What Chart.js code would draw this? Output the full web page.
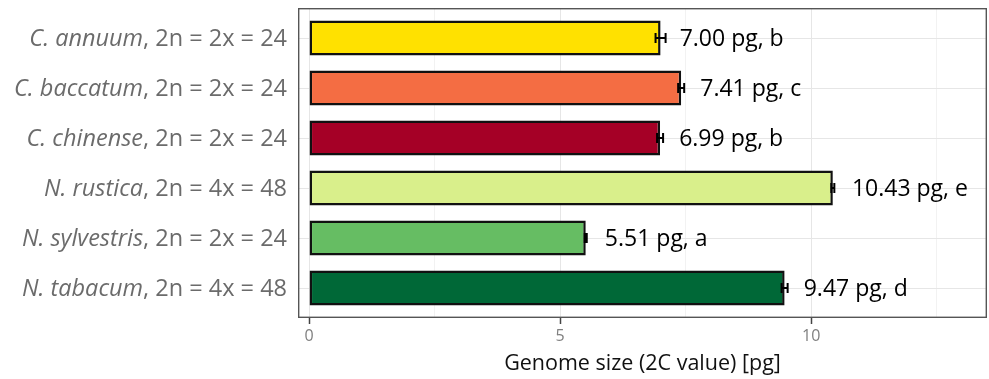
<!DOCTYPE html>
<html>
<head>
<meta charset="utf-8">
<script src="https://cdn.jsdelivr.net/npm/chart.js@4.4.1/dist/chart.umd.min.js"></script>
<style>
  html, body { margin: 0; padding: 0; background: #fff; }
  #wrap { width: 989px; height: 379px; }
</style>
</head>
<body>
<div id="wrap"><canvas id="genomeChart"></canvas></div>
<script>
// datos
const species = ['C. annuum', 'C. baccatum', 'C. chinense', 'N. rustica', 'N. sylvestris', 'N. tabacum'];
const karyotype = ['2n = 2x = 24', '2n = 2x = 24', '2n = 2x = 24', '2n = 4x = 48', '2n = 2x = 24', '2n = 4x = 48'];
const genomeSize = [7.00, 7.41, 6.99, 10.43, 5.51, 9.47];
const errorSize = [0.10, 0.06, 0.06, 0.03, 0.02, 0.06];
const letters = ['b', 'c', 'b', 'e', 'a', 'd'];
const barColors = ['#FFE100', '#F46D43', '#A50026', '#D9EF8B', '#66BD63', '#006837'];
const xTicks = [0, 5, 10];

const FONT = '"Open Sans", "DejaVu Sans", sans-serif';

// etiquetas del eje y (especie en cursiva + cariotipo)
const speciesLabels = {
  id: 'speciesLabels',
  afterDraw(chart) {
    const ctx = chart.ctx;
    const y = chart.scales.y;
    const right = chart.chartArea.left - 11;
    ctx.save();
    ctx.textBaseline = 'middle';
    ctx.fillStyle = '#6b6b6b';
    species.forEach((name, i) => {
      const py = y.getPixelForValue(i) + 1;
      const rest = ', ' + karyotype[i];
      ctx.font = '23.5px ' + FONT;
      const wRest = ctx.measureText(rest).width;
      ctx.textAlign = 'right';
      ctx.fillText(rest, right, py);
      ctx.font = 'italic 23.5px ' + FONT;
      ctx.fillText(name, right - wRest, py);
    });
    ctx.restore();
  }
};

// barras de error y etiquetas de valor
const errorBars = {
  id: 'errorBars',
  afterDatasetsDraw(chart) {
    const ctx = chart.ctx;
    const x = chart.scales.x;
    const y = chart.scales.y;
    ctx.save();
    ctx.strokeStyle = '#000';
    ctx.lineWidth = 2;
    genomeSize.forEach((v, i) => {
      const py = y.getPixelForValue(i);
      const x1 = x.getPixelForValue(v - errorSize[i]);
      const x2 = x.getPixelForValue(v + errorSize[i]);
      ctx.beginPath();
      ctx.moveTo(x1, py); ctx.lineTo(x2, py);
      ctx.moveTo(x1, py - 5); ctx.lineTo(x1, py + 5);
      ctx.moveTo(x2, py - 5); ctx.lineTo(x2, py + 5);
      ctx.stroke();
      ctx.font = '23px ' + FONT;
      ctx.fillStyle = '#000';
      ctx.textAlign = 'left';
      ctx.textBaseline = 'middle';
      ctx.fillText(v.toFixed(2) + ' pg, ' + letters[i], x.getPixelForValue(v + 0.38), py + 1);
    });
    ctx.restore();
  }
};

// borde del panel
const panelBorder = {
  id: 'panelBorder',
  afterDraw(chart) {
    const a = chart.chartArea;
    const ctx = chart.ctx;
    ctx.save();
    ctx.strokeStyle = '#555';
    ctx.lineWidth = 1.4;
    ctx.strokeRect(a.left + 0.7, a.top + 0.7, a.width - 1.4, a.height - 1.4);
    ctx.restore();
  }
};

new Chart(document.getElementById('genomeChart'), {
  type: 'bar',
  data: {
    datasets: [{
      data: genomeSize.map((v, i) => ({ x: v, y: i })),
      backgroundColor: barColors,
      borderColor: '#111',
      borderWidth: 2.5,
      borderSkipped: false,
      categoryPercentage: 1,
      barPercentage: 0.7
    }]
  },
  options: {
    indexAxis: 'y',
    responsive: true,
    maintainAspectRatio: false,
    animation: false,
    layout: { padding: { left: 298, right: 2, top: 8, bottom: 2 } },
    plugins: {
      legend: { display: false },
      tooltip: { enabled: false }
    },
    scales: {
      x: {
        type: 'linear',
        min: -0.22,
        max: 13.5,
        border: { display: false },
        ticks: {
          stepSize: 2.5,
          includeBounds: false,
          color: '#7f7f7f',
          font: { family: FONT, size: 16 },
          padding: 3,
          callback: v => xTicks.includes(v) ? String(v) : ''
        },
        grid: {
          color: ctx => xTicks.includes(ctx.tick && ctx.tick.value) ? '#e6e6e6' : '#f2f2f2',
          tickColor: ctx => xTicks.includes(ctx.tick && ctx.tick.value) ? '#444' : 'rgba(0,0,0,0)',
          tickLength: 6,
          tickWidth: 1.5
        },
        title: {
          display: true,
          text: 'Genome size (2C value) [pg]',
          color: '#111',
          font: { family: FONT, size: 21.5 },
          padding: { top: 2, bottom: 0 }
        }
      },
      y: {
        type: 'linear',
        min: -0.6,
        max: 5.6,
        reverse: true,
        offset: false,
        border: { display: false },
        ticks: { display: false, stepSize: 1, includeBounds: false },
        grid: { color: '#e6e6e6', drawTicks: false, offset: false },
        afterFit: s => { s.width = 0; }
      }
    }
  },
  plugins: [speciesLabels, errorBars, panelBorder]
});
</script>
</body>
</html>
